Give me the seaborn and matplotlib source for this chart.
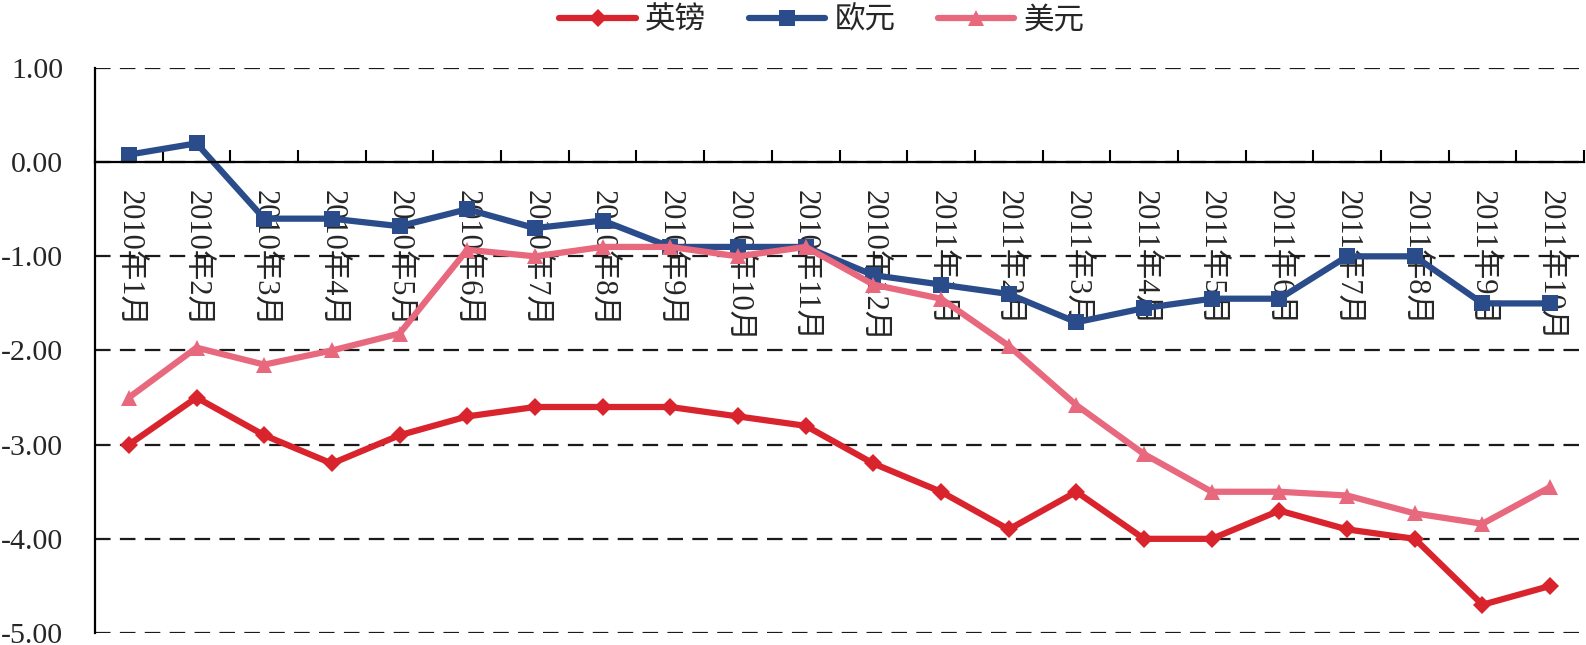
import matplotlib
matplotlib.use("Agg")
import matplotlib.pyplot as plt
import seaborn as sns
import pandas as pd
import numpy as np
from matplotlib.ticker import MultipleLocator, FixedLocator, FuncFormatter

months = ["2010年1月", "2010年2月", "2010年3月", "2010年4月", "2010年5月", "2010年6月",
          "2010年7月", "2010年8月", "2010年9月", "2010年10月", "2010年11月", "2010年12月",
          "2011年1月", "2011年2月", "2011年3月", "2011年4月", "2011年5月", "2011年6月",
          "2011年7月", "2011年8月", "2011年9月", "2011年10月"]

gbp = [-3.0, -2.5, -2.9, -3.2, -2.9, -2.7, -2.6, -2.6, -2.6, -2.7, -2.8, -3.2,
       -3.5, -3.9, -3.5, -4.0, -4.0, -3.7, -3.9, -4.0, -4.7, -4.5]
eur = [0.08, 0.2, -0.6, -0.6, -0.68, -0.5, -0.7, -0.62, -0.9, -0.9, -0.9, -1.2,
       -1.3, -1.4, -1.7, -1.55, -1.45, -1.45, -1.0, -1.0, -1.5, -1.5]
usd = [-2.5, -1.97, -2.15, -2.0, -1.82, -0.93, -1.0, -0.9, -0.9, -1.0, -0.9, -1.3,
       -1.45, -1.95, -2.58, -3.1, -3.5, -3.5, -3.54, -3.73, -3.84, -3.45]

series_names = ["英镑", "欧元", "美元"]
colors = {"英镑": "#D9232D", "欧元": "#2A4C8A", "美元": "#E8687E"}
markers = {"英镑": "D", "欧元": "s", "美元": "^"}
msizes = {"英镑": 9, "欧元": 11, "美元": 12}

idx = np.arange(len(months))
df = pd.concat([
    pd.DataFrame({"x": idx, "value": vals, "series": name})
    for name, vals in zip(series_names, [gbp, eur, usd])
], ignore_index=True)

sns.set_theme(style="white")
fam = ["Liberation Serif", "Noto Sans CJK SC", "DejaVu Sans"]
plt.rcParams["font.family"] = fam

fig = plt.figure(figsize=(15.86, 6.45), dpi=100)
ax = fig.add_axes([95 / 1586, 1 - 633 / 645, (1584 - 95) / 1586, (633 - 68) / 645])

sns.lineplot(data=df, x="x", y="value", hue="series", style="series",
             hue_order=series_names, style_order=series_names,
             palette=colors, markers=markers, dashes=False, sort=False,
             linewidth=4.5, markersize=10, markeredgewidth=0, ax=ax)

for line, name in zip(ax.get_lines(), series_names):
    line.set_markersize(msizes[name])

handles, labels = ax.get_legend_handles_labels()
ax.get_legend().remove()
for h, name in zip(handles, labels):
    h.set_markersize(msizes[name])
    h.set_linewidth(4.5)

ax.set_xlim(-0.5, len(months) - 0.5)
ax.set_ylim(-5, 1)
ax.set_xlabel("")
ax.set_ylabel("")

# y axis
ax.yaxis.set_major_locator(MultipleLocator(1))
ax.yaxis.set_major_formatter(FuncFormatter(lambda v, p: f"{v:.2f}"))
ax.tick_params(axis="y", length=0, pad=23, labelsize=21.5)
for t in ax.get_yticklabels():
    t.set_family(fam)
ax.grid(axis="y", color="#1a1a1a", linewidth=1.6, linestyle=(0, (7.0, 4.2)))
ax.grid(axis="x", visible=False)

# x axis at zero
ax.spines["top"].set_visible(False)
ax.spines["right"].set_visible(False)
ax.spines["bottom"].set_position(("data", 0))
ax.spines["bottom"].set_color("black")
ax.spines["bottom"].set_linewidth(1.6)
ax.spines["left"].set_color("black")
ax.spines["left"].set_linewidth(1.6)

ax.xaxis.set_major_locator(FixedLocator(idx))
ax.set_xticklabels(months, rotation=-90, ha="center", va="top",
                   family=fam, fontsize=22)
ax.xaxis.set_minor_locator(FixedLocator(np.arange(-0.5, len(months), 1.0)))
ax.tick_params(axis="x", which="major", length=0, pad=20)
ax.tick_params(axis="x", which="minor", bottom=True, direction="in", length=9,
               width=1.5, color="black")
ax.set_axisbelow(True)

fig.legend(handles, labels, loc="upper center", bbox_to_anchor=(822 / 1586, 0.99),
           ncol=3, frameon=False, prop={"family": fam, "size": 22},
           handlelength=2.5, handletextpad=0.3, columnspacing=1.4,
           borderaxespad=0.0, borderpad=0.0)

fig.savefig("out.png", dpi=100)
